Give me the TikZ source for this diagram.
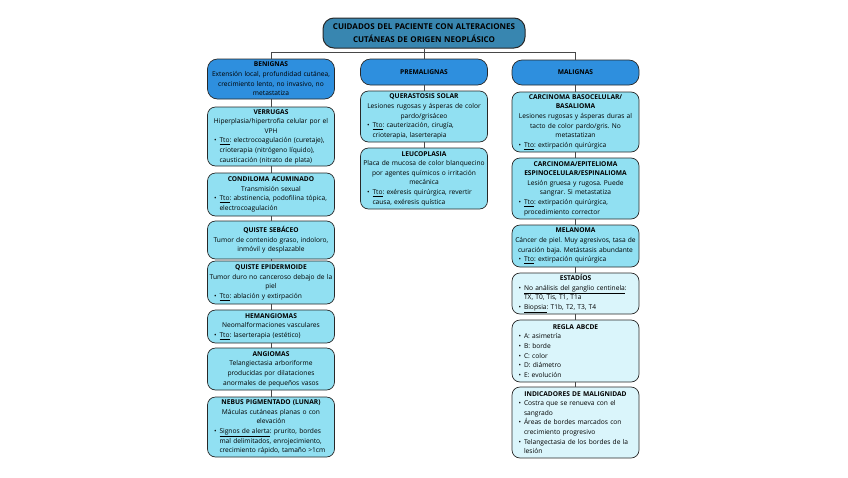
\documentclass[tikz,border=0pt]{standalone}
\usepackage{fontspec}
\setmainfont{Open Sans}
\frenchspacing
\newcommand{\bul}[1]{\par{\raggedright\leftskip=11pt\noindent\hspace*{-5.5pt}\makebox[5.5pt][l]{\textbullet}#1\par}}
\definecolor{titlefill}{RGB}{56,134,176}
\definecolor{catfill}{RGB}{46,143,222}
\definecolor{itemfill}{RGB}{145,224,242}
\definecolor{lightfill}{RGB}{218,245,251}
\definecolor{edge}{RGB}{40,40,40}

\begin{document}
\begin{tikzpicture}[x=1pt,y=-1pt]

    \tikzset{
      box/.style={
        draw=edge,
        line width=0.7pt,
        rounded corners=8pt,
        text width=125pt,
        inner xsep=1pt,
        inner ysep=1pt,
        align=center,
        font=\fontsize{6.65}{9.6}\selectfont,
      },
      titlebox/.style={box,fill=titlefill,rounded corners=11pt,text width=200pt,line width=1pt,
        minimum height=30pt,font=\fontsize{8}{12.6}\selectfont\bfseries},
      catbox/.style={box,fill=catfill,rounded corners=10pt},
      itembox/.style={box,fill=itemfill},
      lightbox/.style={box,fill=lightfill},
      link/.style={draw=edge!85,line width=0.6pt},
    }
    \useasboundingbox (0,0) rectangle (848,477);

	\node[titlebox] (title) at (424,33) {CUIDADOS DEL PACIENTE CON ALTERACIONES\\CUTÁNEAS DE ORIGEN NEOPLÁSICO};

	\node[catbox,minimum height=40pt] (benig) at (271,79) {\textbf{BENIGNAS}\\Extensión local, profundidad cutánea,\\crecimiento lento, no invasivo, no\\metastatiza};
	\node[itembox,minimum height=59pt] (verr) at (271,136.5) {\textbf{VERRUGAS}\\Hiperplasia/hipertrofia celular por el\\VPH
	  \bul{\underline{Tto}: electrocoagulación (curetaje),\\crioterapia (nitrógeno líquido),\\causticación (nitrato de plata)}};
	\node[itembox,minimum height=43pt] (cond) at (271,194.5) {\textbf{CONDILOMA ACUMINADO}\\Transmisión sexual
	  \bul{\underline{Tto}: abstinencia, podofilina tópica,\\electrocoagulación}};
	\node[itembox,minimum height=38pt] (sebac) at (271,240) {\textbf{QUISTE SEBÁCEO}\\Tumor de contenido graso, indoloro,\\inmóvil y desplazable};
	\node[itembox,minimum height=43pt] (epid) at (271,282.5) {\textbf{QUISTE EPIDERMOIDE}\\Tumor duro no canceroso debajo de la\\piel
	  \bul{\underline{Tto}: ablación y extirpación}};
	\node[itembox,minimum height=33pt] (hemang) at (271,326.5) {\textbf{HEMANGIOMAS}\\Neomalformaciones vasculares
	  \bul{\underline{Tto}: laserterapia (estético)}};
	\node[itembox,minimum height=42pt] (angio) at (271,369) {\textbf{ANGIOMAS}\\Telangiectasia arboriforme\\producidas por dilataciones\\anormales de pequeños vasos};
	\node[itembox,minimum height=60pt] (nebus) at (271,427) {\textbf{NEBUS PIGMENTADO (LUNAR)}\\Máculas cutáneas planas o con\\elevación
	  \bul{\underline{Signos de alerta}: prurito, bordes\\mal delimitados, enrojecimiento,\\crecimiento rápido, tamaño >1cm}};

	\node[catbox,minimum height=26pt] (premal) at (424,72) {\textbf{PREMALIGNAS}};
	\node[itembox,minimum height=51pt] (querat) at (424,116.5) {\textbf{QUERASTOSIS SOLAR}\\Lesiones rugosas y ásperas de color\\pardo/grisáceo
	  \bul{\underline{Tto}: cauterización, cirugía,\\crioterapia, laserterapia}};
	\node[itembox,minimum height=61pt] (leuco) at (424,178.5) {\textbf{LEUCOPLASIA}\\Placa de mucosa de color blanquecino\\por agentes químicos o irritación\\mecánica
	  \bul{\underline{Tto}: exéresis quirúrgica, revertir\\causa, exéresis quística}};

	\node[catbox,minimum height=25pt] (malig) at (575.5,72.5) {\textbf{MALIGNAS}};
	\node[itembox,minimum height=60pt] (baso) at (575.5,122) {\textbf{CARCINOMA BASOCELULAR/}\\\textbf{BASALIOMA}\\Lesiones rugosas y ásperas duras al\\tacto de color pardo/gris. No\\metastatizan
	  \bul{\underline{Tto}: extirpación quirúrgica}};
	\node[itembox,minimum height=61pt] (espino) at (575.5,188.5) {\textbf{CARCINOMA/EPITELIOMA}\\\textbf{ESPINOCELULAR/ESPINALIOMA}\\Lesión gruesa y rugosa. Puede\\sangrar. Si metastatiza
	  \bul{\underline{Tto}: extirpación quirúrgica,\\procedimiento corrector}};
	\node[itembox,minimum height=42pt] (melan) at (575.5,246) {\textbf{MELANOMA}\\Cáncer de piel. Muy agresivos, tasa de\\curación baja. Metástasis abundante
	  \bul{\underline{Tto}: extirpación quirúrgica}};
	\node[lightbox,minimum height=41pt] (estad) at (575.5,293.5) {\textbf{ESTADÍOS}
	  \bul{\underline{No análisis del ganglio centinela}:\\TX, T0, Tis, T1, T1a}
	  \bul{\underline{Biopsia}: T1b, T2, T3, T4}};
	\node[lightbox,minimum height=62pt] (abcde) at (575.5,351) {\textbf{REGLA ABCDE}
	  \bul{A: asimetría}\bul{B: borde}\bul{C: color}\bul{D: diámetro}\bul{E: evolución}};
	\node[lightbox,minimum height=71pt] (indic) at (575.5,422.5) {\textbf{INDICADORES DE MALIGNIDAD}
	  \bul{Costra que se renueva con el\\sangrado}
	  \bul{Áreas de bordes marcados con\\crecimiento progresivo}
	  \bul{Telangectasia de los bordes de la\\lesión}};

	\coordinate (bus) at (424,52);
	\draw[link] (title) -- (bus);
	\draw[link] (bus) -| (benig);
	\draw[link] (bus) -| (malig);
	\draw[link] (bus) -- (premal);

	\foreach \a/\b in {benig/verr,verr/cond,cond/sebac,sebac/epid,epid/hemang,hemang/angio,angio/nebus,
	  premal/querat,querat/leuco,
	  malig/baso,baso/espino,espino/melan,melan/estad,estad/abcde,abcde/indic}
	  \draw[link] (\a) -- (\b);

\end{tikzpicture}
\end{document}
